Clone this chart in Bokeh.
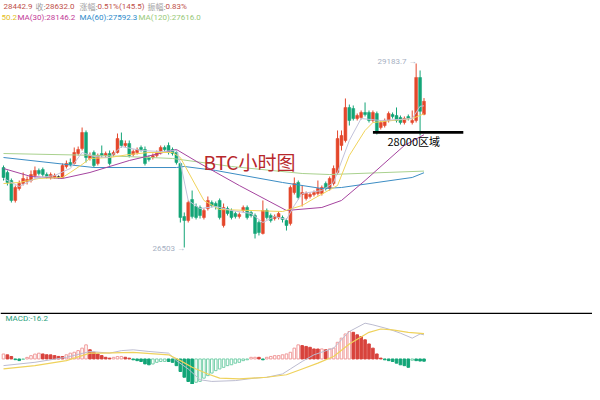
from bokeh.plotting import figure
from bokeh.layouts import column
from bokeh.models import Range1d, Label, Span, ColumnDataSource
from bokeh.embed import file_html
from bokeh.resources import INLINE

# ---------------- data (hourly BTC candles) ----------------
opens = [27668, 27596, 27479, 27188, 27362, 27435, 27464, 27479, 27552, 27625,
         27639, 27566, 27523, 27523, 27523, 27523, 27683, 27741, 27727, 27872,
         27945, 28178, 27800, 27887, 27727, 27872, 27843, 27872, 27858, 27887,
         28062, 27989, 28018, 27858, 27887, 27960, 27931, 27814, 27814, 27843,
         27887, 27960, 27989, 27931, 27887, 27727, 26954, 26896, 27202, 27100,
         27086, 26940, 27071, 27158, 27144, 27188, 26823, 27071, 27042, 26998,
         26954, 27042, 27086, 27013, 26969, 26867, 26707, 27042, 26969, 26925,
         26940, 26940, 26896, 26852, 27304, 27450, 27275, 27217, 27246, 27275,
         27290, 27290, 27435, 27362, 27435, 27596, 27989, 28062, 28543, 28528,
         28382, 28397, 28470, 28470, 28353, 28455, 28251, 28280, 28353, 28441,
         28426, 28397, 28324, 28412, 28324, 28353, 28980, 28442.9]
highs = [27698, 27625, 27508, 27406, 27479, 27596, 27537, 27625, 27683, 27654,
         27668, 27596, 27596, 27581, 27552, 27727, 27770, 27800, 27960, 27974,
         28251, 28208, 27887, 27916, 27872, 27989, 27901, 27916, 27916, 28164,
         28178, 28062, 28062, 27931, 27960, 27989, 27974, 27843, 27872, 27916,
         27989, 27989, 28033, 27960, 27916, 27741, 27013, 27188, 27333, 27144,
         27115, 27071, 27246, 27188, 27173, 27217, 27144, 27100, 27071, 27027,
         27013, 27115, 27115, 27042, 26998, 26896, 27188, 27071, 26998, 26984,
         27027, 26969, 26925, 27406, 27523, 27479, 27406, 27319, 27304, 27333,
         27479, 27406, 27464, 27537, 27698, 28208, 28208, 28674, 28586, 28572,
         28455, 28499, 28616, 28499, 28499, 28484, 28353, 28382, 28484, 28470,
         28543, 28426, 28412, 28441, 28499, 29183.7, 29082, 28680]
lows = [27479, 27406, 27158, 27158, 27333, 27406, 27421, 27450, 27523, 27552,
        27537, 27508, 27494, 27508, 27508, 27508, 27654, 27683, 27712, 27843,
        27916, 27741, 27770, 27668, 27698, 27814, 27814, 27698, 27829, 27872,
        27960, 27960, 27814, 27829, 27858, 27901, 27698, 27756, 27785, 27814,
        27858, 27901, 27858, 27843, 27712, 26867, 26503, 26867, 26925, 26911,
        26925, 26911, 27042, 27086, 27056, 26911, 26794, 26969, 26911, 26925,
        26925, 27013, 26911, 26940, 26634, 26678, 26692, 26911, 26867, 26896,
        26911, 26867, 26750, 26823, 27275, 27202, 27100, 27188, 27217, 27246,
        27260, 27260, 27333, 27333, 27406, 27566, 27916, 28033, 28280, 28353,
        28353, 28368, 28412, 28324, 28324, 28149, 28222, 28251, 28324, 28382,
        28324, 28295, 28295, 28353, 28295, 28324, 28135, 28430]
closes = [27523, 27450, 27188, 27377, 27435, 27508, 27494, 27566, 27625, 27581,
          27566, 27537, 27566, 27552, 27523, 27698, 27727, 27712, 27887, 27931,
          28178, 27814, 27843, 27698, 27843, 27843, 27872, 27727, 27887, 28091,
          27989, 28018, 27843, 27901, 27931, 27931, 27727, 27785, 27843, 27887,
          27960, 27931, 27887, 27872, 27741, 26940, 26896, 27158, 26954, 26940,
          26969, 27042, 27188, 27115, 27100, 26940, 27086, 26998, 26940, 26954,
          26984, 27086, 26940, 26969, 26707, 26721, 27042, 26940, 26896, 26954,
          26998, 26911, 26823, 27377, 27435, 27231, 27304, 27290, 27275, 27304,
          27362, 27377, 27362, 27508, 27654, 28091, 28135, 28543, 28353, 28382,
          28426, 28470, 28441, 28353, 28470, 28178, 28324, 28353, 28455, 28412,
          28353, 28324, 28382, 28382, 28353, 28980, 28486.5, 28632.0]

# moving averages (candle index, value)
ma5_idx = [0, 4, 8, 13, 17, 20, 23, 27, 30, 35, 40, 44, 45, 47, 50, 54, 58, 63, 66, 69,
           72, 74, 76, 81, 84, 88, 91, 96, 101, 104, 106, 107]
ma5_val = [27508, 27392, 27508, 27552, 27654, 27887, 27829, 27814, 27974, 27916, 27901,
           27916, 27741, 27188, 27071, 27100, 27042, 26998, 26867, 26954, 26911, 27115,
           27290, 27333, 27450, 28062, 28382, 28353, 28368, 28382, 28560, 28567]
ma10_idx = [0, 4, 9, 15, 17, 20, 22, 27, 32, 37, 43, 45, 51, 55, 63, 71, 76, 79, 85, 88,
            92, 94, 104, 107]
ma10_val = [27435, 27450, 27508, 27523, 27596, 27712, 27800, 27814, 27858, 27887, 27887,
            27814, 27188, 27056, 27042, 27027, 27115, 27217, 27406, 27843, 28208, 28324,
            28382, 28450.2]
ma30_idx = [0, 7, 15, 22, 32, 44, 50, 60, 72, 81, 86, 92, 102, 107]
ma30_val = [27654, 27537, 27508, 27596, 27770, 27931, 27727, 27406, 27042, 27086, 27188,
            27479, 27989, 28146.2]
ma60_idx = [0, 23, 44, 46, 54, 71, 81, 86, 104, 107]
ma60_val = [27814, 27668, 27668, 27683, 27625, 27450, 27362, 27377, 27523, 27592.3]
ma120_idx = [0, 25, 43, 58, 76, 83, 107]
ma120_val = [27872, 27843, 27800, 27683, 27581, 27566, 27616.0]

# MACD panel
macd_hist = [35.8, 29.6, 17.9, -5.2, -11.7, -2.8, 11.4, 23.9, 35.1, 41.6,
             36.2, 30.4, 29.5, 24.1, 18.3, 17.6, 30.2, 41.8, 48.5, 60.3,
             78.1, 101.7, 66.4, 48.2, 35.6, 24.3, 12.1, 6.2, 11.8, 17.5,
             18.2, 12.4, 5.8, -6.1, -12.3, -18.4, -35.7, -42.1, -36.3, -24.2,
             -18.1, -17.6, -18.3, -24.4, -48.2, -90.3, -131.8, -162.4, -180.1, -168.2,
             -161.7, -138.4, -120.2, -101.8, -84.3, -72.1, -60.4, -48.2, -41.8, -30.2,
             -24.1, -12.3, -5.9, 11.8, 12.2, 11.9, -6.2, 12.1, 18.3, 23.8,
             24.2, 30.1, 36.3, 48.2, 78.1, 101.8, 96.2, 90.4, 84.1, 72.3,
             71.8, 72.2, 66.1, 72.4, 78.3, 120.2, 150.1, 180.3, 197.8, 192.2,
             174.1, 161.8, 138.2, 108.3, 78.1, 36.2, 6.1, -6.2, -12.1, -18.3,
             -30.2, -42.1, -48.3, -60.2, -9.1, -12.2, -15.1, -16.2]
dif_idx = [0, 8, 16, 22, 27, 30, 33, 37, 42, 44, 47, 50, 53, 59, 64, 67, 71, 73, 76, 79,
           84, 88, 92, 94, 98, 101, 104, 106, 107]
dif_val = [-48, -24, 12, 54, 42, 60, 66, 54, 42, -12, -72, -150, -162, -156, -138, -132,
           -108, -72, -18, 30, 78, 198, 258, 246, 216, 186, 150, 180, 174]
dea_idx = [0, 8, 16, 22, 25, 33, 42, 45, 48, 52, 55, 60, 67, 72, 76, 80, 84, 88, 93, 96,
           99, 103, 107]
dea_val = [-72, -48, -12, 42, 42, 48, 30, -12, -60, -108, -138, -144, -132, -114, -72, -30,
           18, 108, 192, 216, 210, 192, 182]

zone_level = 28180.0
zone_start, zone_end = 94, 117
zone_text = "28000区域"
title_text = "BTC小时图"
high_text = "29183.7 →"
low_text = "26503 →"
header1 = [("28442.9", "#c0504a"), ("收:", "#9e9e9e"), ("28632.0", "#c0504a"),
           ("涨幅:", "#9e9e9e"), ("0.51%(145.5)", "#c0504a"),
           ("振幅:", "#9e9e9e"), ("0.83%", "#c0504a")]
header2 = [("50.2", "#e3bd1a"), ("MA(30):28146.2", "#c23a98"),
           ("MA(60):27592.3", "#2e8bcb"), ("MA(120):27616.0", "#97c978")]
macd_text = "MACD:-16.2"

# ---------------- layout constants ----------------
W = 592
H_MAIN = 312
H_MACD = 72
STEP = 3.93      # px per candle
X0 = 3.0         # canvas px of candle 0
PPP = 14.57      # price per px
TOP = 30101.6    # price at top edge
MPP = 7.21       # macd units per px
MTOP = 335.0     # macd value at top edge


def ix(px):
    return (px - X0) / STEP


def py(px):
    return TOP - px * PPP


def my(px):
    return MTOP - px * MPP


RED = "#e4472b"
GREEN = "#13a577"
CJK = "Noto Sans CJK SC"
LAT = "Roboto"

xr = Range1d(ix(0), ix(W))

p = figure(width=W, height=H_MAIN, x_range=xr, y_range=Range1d(py(H_MAIN), py(0)),
           toolbar_location=None, output_backend="svg", min_border=0,
           x_axis_location=None, y_axis_location=None, outline_line_color=None,
           background_fill_color="white", border_fill_color="white")
p.grid.grid_line_color = None

n = len(opens)
xs = list(range(n))
cols, tops, bots = [], [], []
for o, c in zip(opens, closes):
    if c > o:
        cols.append(RED)
    elif c < o:
        cols.append(GREEN)
    else:
        cols.append("#333333")
    lo_b, hi_b = min(o, c), max(o, c)
    if hi_b - lo_b < 12:
        hi_b = lo_b + 12
    tops.append(hi_b)
    bots.append(lo_b)

src = ColumnDataSource(dict(x=xs, hi=highs, lo=lows, top=tops, bot=bots, color=cols))
p.segment(x0="x", y0="lo", x1="x", y1="hi", source=src, line_color="color", line_width=1)
p.vbar(x="x", width=0.74, top="top", bottom="bot", source=src,
       fill_color="color", line_color="color", line_width=0.5)

p.line(ma120_idx, ma120_val, line_color="#a9d18e", line_width=1)
p.line(ma60_idx, ma60_val, line_color="#3c8dc4", line_width=1)
p.line(ma30_idx, ma30_val, line_color="#a5449f", line_width=1)
p.line(ma10_idx, ma10_val, line_color="#f0d35a", line_width=1)
p.line(ma5_idx, ma5_val, line_color="#c2c2da", line_width=1)

p.segment(x0=[zone_start], y0=[zone_level], x1=[zone_end], y1=[zone_level],
          line_color="black", line_width=2.6)


def lab(fig, x, y, text, color, size, font, align="left"):
    fig.add_layout(Label(x=x, y=y, text=text, text_color=color, text_font_size=size,
                         text_font=font, text_align=align, text_baseline="middle"))


# header rows
h1_x = [3, 35, 45, 79, 97, 147, 165]
for (t, c), x in zip(header1, h1_x):
    lab(p, ix(x), py(6), t, c, "8px", CJK if any(ord(ch) > 255 for ch in t) else LAT)
h2_x = [1, 17, 79, 138]
for (t, c), x in zip(header2, h2_x):
    lab(p, ix(x), py(17), t, c, "8px", LAT)

lab(p, ix(203), py(161), title_text, "#b8282c", "19px", CJK)
lab(p, ix(387), py(140.5), zone_text, "black", "11px", CJK)
lab(p, ix(377), py(61), high_text, "#a6afc2", "8px", LAT)
lab(p, ix(152), py(247.5), low_text, "#a6afc2", "8px", LAT)

# ---------------- MACD panel ----------------
m = figure(width=W, height=H_MACD, x_range=xr, y_range=Range1d(my(H_MACD), my(0)),
           toolbar_location=None, output_backend="svg", min_border=0,
           x_axis_location=None, y_axis_location=None, outline_line_color=None,
           background_fill_color="white", border_fill_color="white")
m.grid.grid_line_color = None

fills, lines = [], []
prev = macd_hist[0]
for h in macd_hist:
    if h >= 0:
        if h >= prev:
            fills.append("white"); lines.append("#f09a9a")
        else:
            fills.append("#d8433d"); lines.append("#d8433d")
    else:
        if h <= prev:
            fills.append("#12a577"); lines.append("#12a577")
        else:
            fills.append("white"); lines.append("#74cfa9")
    prev = h

hsrc = ColumnDataSource(dict(x=xs, top=macd_hist, fill=fills, line=lines))
m.vbar(x="x", width=0.66, top="top", bottom=0, source=hsrc,
       fill_color="fill", line_color="line", line_width=1)
m.line(dif_idx, dif_val, line_color="#bcbcd0", line_width=1)
m.line(dea_idx, dea_val, line_color="#efd25c", line_width=1.2)

m.add_layout(Span(location=my(0.8), dimension="width", line_color="black", line_width=1.6))
lab(m, ix(5), my(5.5), macd_text, "#1f9e7a", "8px", LAT)

layout = column(p, m)
open("out.html", "w", encoding="utf-8").write(file_html(layout, INLINE, title="BTC"))
